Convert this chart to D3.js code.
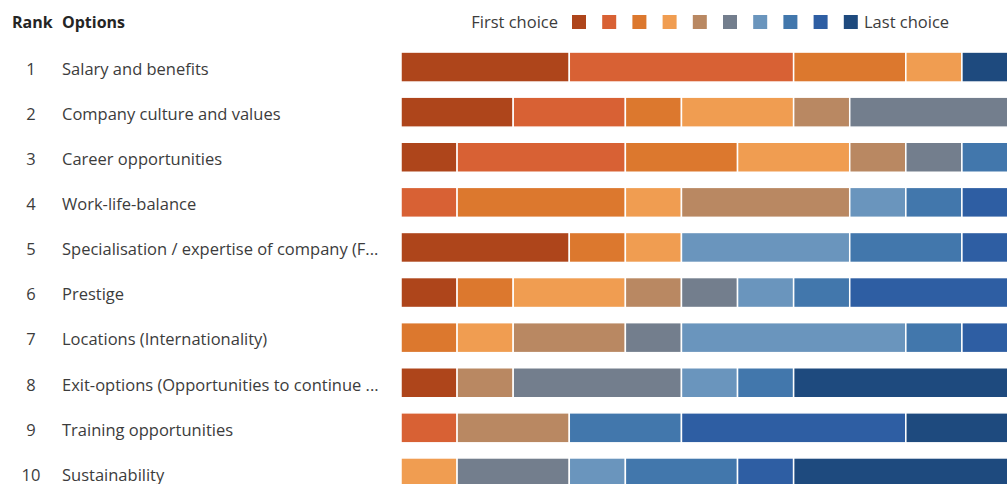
<!DOCTYPE html>
<html>
<head>
<meta charset="utf-8">
<script src="https://cdn.jsdelivr.net/npm/d3@7"></script>
<style>
  html, body { margin: 0; padding: 0; background: #fff; }
  svg { display: block; font-family: "Open Sans", "Noto Sans", sans-serif; }
</style>
</head>
<body>
<svg id="chart" width="1007" height="484"></svg>
<script>
// Ranked options, top to bottom
const ranks = [1, 2, 3, 4, 5, 6, 7, 8, 9, 10];
const options = [
  "Salary and benefits",
  "Company culture and values",
  "Career opportunities",
  "Work-life-balance",
  "Specialisation / expertise of company (F...",
  "Prestige",
  "Locations (Internationality)",
  "Exit-options (Opportunities to continue ...",
  "Training opportunities",
  "Sustainability"
];

// Number of respondents placing each option at choice 1..10
const salary      = [3, 4, 2, 1, 0, 0, 0, 0, 0, 1];
const culture     = [2, 2, 1, 2, 1, 3, 0, 0, 0, 0];
const career      = [1, 3, 2, 2, 1, 1, 0, 1, 0, 0];
const workLife    = [0, 1, 3, 1, 3, 0, 1, 1, 1, 0];
const specialism  = [3, 0, 1, 1, 0, 0, 3, 2, 1, 0];
const prestige    = [1, 0, 1, 2, 1, 1, 1, 1, 3, 0];
const locations   = [0, 0, 1, 1, 2, 1, 4, 1, 1, 0];
const exitOptions = [1, 0, 0, 0, 1, 3, 1, 1, 0, 4];
const training    = [0, 1, 0, 0, 2, 0, 0, 2, 4, 2];
const sustain     = [0, 0, 0, 1, 0, 2, 1, 2, 1, 4];

const choiceKeys = ["c1", "c2", "c3", "c4", "c5", "c6", "c7", "c8", "c9", "c10"];
const choiceColors = ["#ae451b", "#d86134", "#dc782e", "#f09d51", "#b98862",
                      "#737e8d", "#6a95bd", "#4277ac", "#2e5ea3", "#1e4a7e"];
const legendStart = "First choice";
const legendEnd = "Last choice";
const totalRespondents = 11;

const rows = [salary, culture, career, workLife, specialism,
              prestige, locations, exitOptions, training, sustain];

const table = options.map((name, i) => {
  const row = { option: name, rank: ranks[i] };
  choiceKeys.forEach((k, j) => { row[k] = rows[i][j]; });
  return row;
});

const svg = d3.select("#chart");

const x = d3.scaleLinear().domain([0, totalRespondents]).range([401, 1018]);
const y = d3.scaleBand()
  .domain(options)
  .range([44.5, 495.5])
  .paddingInner(0.335)
  .paddingOuter(0.1675);
const color = d3.scaleOrdinal().domain(choiceKeys).range(choiceColors);

const series = d3.stack().keys(choiceKeys)(table);

// Stacked bars
svg.append("g")
  .selectAll("g")
  .data(series)
  .join("g")
    .attr("fill", d => color(d.key))
  .selectAll("rect")
  .data(d => d.filter(s => s[1] > s[0]))
  .join("rect")
    .attr("x", d => x(d[0]))
    .attr("y", d => y(d.data.option))
    .attr("width", d => x(d[1]) - x(d[0]))
    .attr("height", y.bandwidth())
    .attr("stroke", "#ffffff")
    .attr("stroke-width", 1.5);

// Column headers
svg.append("text").attr("x", 12).attr("y", 28)
  .attr("font-size", 16).attr("font-weight", 700).attr("fill", "#252525")
  .text("Rank");
svg.append("text").attr("x", 62).attr("y", 28)
  .attr("font-size", 16).attr("font-weight", 700).attr("fill", "#252525")
  .text("Options");

// Rank numbers and option names
const labels = svg.append("g");
labels.selectAll("text.rank")
  .data(table)
  .join("text")
    .attr("class", "rank")
    .attr("x", 31)
    .attr("y", d => y(d.option) + y.bandwidth() / 2 + 2)
    .attr("dy", "0.35em")
    .attr("text-anchor", "middle")
    .attr("font-size", 16.5)
    .attr("fill", "#3c3c3c")
    .text(d => d.rank);
labels.selectAll("text.opt")
  .data(table)
  .join("text")
    .attr("class", "opt")
    .attr("x", 62)
    .attr("y", d => y(d.option) + y.bandwidth() / 2 + 2)
    .attr("dy", "0.35em")
    .attr("font-size", 16.5)
    .attr("fill", "#3c3c3c")
    .text(d => d.option);

// Legend
const legend = svg.append("g");
legend.append("text")
  .attr("x", 558).attr("y", 22).attr("dy", "0.35em")
  .attr("text-anchor", "end")
  .attr("font-size", 16.5).attr("fill", "#3c3c3c")
  .text(legendStart);
legend.selectAll("rect")
  .data(choiceKeys)
  .join("rect")
    .attr("x", (d, i) => 572 + i * 30.2)
    .attr("y", 15)
    .attr("width", 14)
    .attr("height", 14)
    .attr("fill", d => color(d));
legend.append("text")
  .attr("x", 864).attr("y", 22).attr("dy", "0.35em")
  .attr("font-size", 16.5).attr("fill", "#3c3c3c")
  .text(legendEnd);
</script>
</body>
</html>
